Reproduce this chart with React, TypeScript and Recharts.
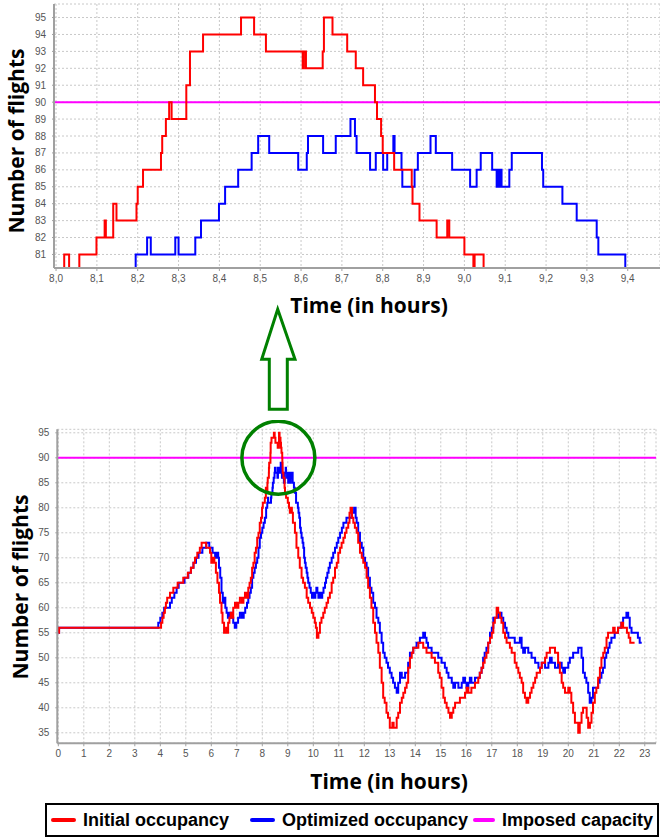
import React from "react";
import {
  CartesianGrid,
  Line,
  LineChart,
  ReferenceDot,
  ReferenceLine,
  XAxis,
  YAxis,
} from "recharts";

type Pt = [number, number];

// zoomed window 8.0 - 9.4 h
const zoomInitial: Pt[] = [
  [7.99, 80], [8.02, 81], [8.032, 80], [8.057, 81], [8.099, 82], [8.119, 83],
  [8.122, 82], [8.14, 84], [8.148, 83], [8.197, 84], [8.2, 85], [8.213, 86],
  [8.257, 87], [8.26, 88], [8.269, 89], [8.277, 90], [8.283, 89], [8.319, 91],
  [8.328, 93], [8.36, 94], [8.453, 95], [8.485, 94], [8.514, 93], [8.604, 92],
  [8.607, 93], [8.612, 92], [8.653, 93], [8.656, 95], [8.677, 94], [8.713, 93],
  [8.734, 92], [8.752, 91], [8.781, 90], [8.786, 89], [8.796, 88], [8.8, 87],
  [8.828, 86], [8.871, 85], [8.873, 84], [8.89, 83], [8.932, 82], [8.958, 83],
  [8.963, 82], [9.0, 81], [9.022, 80], [9.025, 81], [9.047, 79], [9.2, 79],
];

const zoomOptimized: Pt[] = [
  [7.99, 79], [8.195, 81], [8.223, 82], [8.232, 81], [8.292, 82], [8.3, 81],
  [8.341, 82], [8.355, 83], [8.399, 84], [8.414, 85], [8.446, 86], [8.479, 87],
  [8.495, 88], [8.522, 87], [8.593, 86], [8.614, 87], [8.617, 88], [8.654, 87],
  [8.685, 88], [8.721, 89], [8.732, 88], [8.736, 87], [8.769, 86], [8.783, 87],
  [8.801, 86], [8.811, 87], [8.826, 88], [8.829, 87], [8.846, 86], [8.848, 85],
  [8.878, 86], [8.886, 87], [8.917, 88], [8.93, 87], [8.97, 86], [9.014, 85],
  [9.03, 86], [9.04, 87], [9.068, 86], [9.079, 85], [9.082, 86], [9.085, 85],
  [9.088, 86], [9.091, 85], [9.11, 86], [9.116, 87], [9.19, 86], [9.193, 85],
  [9.24, 84], [9.275, 83], [9.324, 82], [9.328, 81], [9.394, 79], [9.5, 79],
];

// whole day 0 - 23 h
const dayInitial: Pt[] = [
  [0, 55], [0.03, 56], [4.03, 57], [4.08, 58], [4.13, 59], [4.18, 60], [4.22, 61],
  [4.27, 62], [4.38, 63], [4.51, 64], [4.68, 65], [4.9, 66], [5.08, 67], [5.2, 68],
  [5.3, 69], [5.36, 70], [5.45, 71], [5.55, 72], [5.62, 73], [5.8, 72], [5.95, 71],
  [6.0, 69], [6.05, 70], [6.12, 69], [6.18, 67], [6.24, 65], [6.3, 63], [6.34, 61],
  [6.4, 59], [6.44, 57], [6.5, 55], [6.58, 56], [6.62, 55], [6.66, 57], [6.71, 58],
  [6.76, 59], [6.82, 58], [6.86, 60], [6.93, 61], [7.0, 60], [7.06, 61], [7.12, 62],
  [7.2, 61], [7.26, 62], [7.32, 63], [7.38, 62], [7.45, 64], [7.5, 65], [7.55, 66],
  [7.6, 68], [7.65, 69], [7.7, 71], [7.75, 72], [7.8, 74], [7.85, 75], [7.9, 77],
  [7.95, 78], [7.99, 80], [8.02, 81], [8.099, 82], [8.14, 84], [8.148, 83],
  [8.2, 85], [8.213, 86], [8.257, 87], [8.26, 88], [8.269, 89], [8.319, 91],
  [8.328, 93], [8.36, 94], [8.453, 95], [8.485, 94], [8.514, 93], [8.604, 92],
  [8.653, 93], [8.656, 95], [8.677, 94], [8.713, 93], [8.734, 92], [8.752, 91],
  [8.781, 90], [8.786, 89], [8.796, 88], [8.8, 87], [8.828, 86], [8.871, 85],
  [8.873, 84], [8.89, 83], [8.932, 82], [9.0, 81], [9.047, 80], [9.08, 79],
  [9.12, 80], [9.16, 79], [9.2, 77], [9.28, 75], [9.34, 72], [9.41, 70], [9.47, 68],
  [9.54, 66], [9.6, 65], [9.67, 64], [9.74, 62], [9.8, 61], [9.87, 60], [9.94, 59],
  [10.0, 58], [10.06, 57], [10.1, 56], [10.14, 54], [10.2, 55], [10.26, 57],
  [10.32, 58], [10.39, 59], [10.45, 60], [10.52, 61], [10.58, 62], [10.65, 63],
  [10.72, 65], [10.78, 66], [10.85, 68], [10.92, 69], [10.98, 71], [11.05, 72],
  [11.11, 73], [11.18, 74], [11.24, 75], [11.3, 76], [11.37, 77], [11.42, 79],
  [11.46, 80], [11.52, 78], [11.57, 77], [11.63, 76], [11.7, 75], [11.76, 73],
  [11.83, 71], [11.9, 70], [11.96, 69], [12.03, 68], [12.09, 66], [12.15, 64],
  [12.22, 62], [12.28, 60], [12.35, 57], [12.42, 55], [12.48, 53], [12.55, 51],
  [12.61, 48], [12.68, 45], [12.74, 42], [12.8, 41], [12.87, 39], [12.93, 38],
  [13.0, 36], [13.1, 37], [13.15, 36], [13.27, 38], [13.33, 39], [13.4, 41],
  [13.47, 42], [13.53, 43], [13.6, 44], [13.66, 45], [13.72, 48], [13.79, 50],
  [13.86, 51], [13.92, 52], [14.12, 53], [14.31, 52], [14.44, 51], [14.64, 50],
  [14.77, 49], [14.9, 47], [14.96, 46], [15.03, 44], [15.1, 42], [15.16, 41],
  [15.23, 40], [15.3, 39], [15.36, 38], [15.43, 39], [15.49, 40], [15.56, 41],
  [15.75, 42], [15.95, 43], [16.01, 44], [16.08, 43], [16.2, 44], [16.34, 45],
  [16.47, 46], [16.53, 47], [16.6, 48], [16.66, 49], [16.72, 50], [16.79, 51],
  [16.86, 53], [16.93, 54], [17.0, 55], [17.06, 57], [17.12, 58], [17.19, 60],
  [17.25, 59], [17.32, 58], [17.38, 57], [17.45, 55], [17.52, 54], [17.58, 53],
  [17.71, 52], [17.78, 51], [17.9, 49], [17.97, 48], [18.04, 47], [18.1, 46],
  [18.17, 45], [18.23, 43], [18.3, 42], [18.36, 41], [18.43, 42], [18.5, 43],
  [18.56, 44], [18.63, 45], [18.7, 46], [18.76, 47], [18.89, 48], [18.96, 49],
  [19.09, 50], [19.15, 51], [19.28, 52], [19.48, 51], [19.6, 49], [19.67, 47],
  [19.74, 45], [19.8, 44], [19.87, 43], [20.0, 44], [20.06, 43], [20.12, 41],
  [20.19, 39], [20.26, 37], [20.39, 35], [20.45, 37], [20.52, 39], [20.58, 40],
  [20.72, 38], [20.78, 36], [20.85, 37], [20.91, 39], [20.97, 41], [21.04, 43],
  [21.1, 44], [21.17, 46], [21.24, 48], [21.3, 50], [21.37, 51], [21.43, 52],
  [21.5, 54], [21.56, 55], [21.76, 56], [21.82, 55], [21.95, 56], [22.08, 57],
  [22.15, 56], [22.3, 55], [22.37, 54], [22.43, 53], [22.6, 53],
];

const dayOptimized: Pt[] = [
  [0, 55], [0.03, 56], [3.92, 57], [4.0, 58], [4.08, 59], [4.15, 60], [4.38, 61],
  [4.45, 62], [4.55, 63], [4.64, 64], [4.72, 65], [4.95, 66], [5.1, 67], [5.2, 68],
  [5.3, 69], [5.4, 70], [5.5, 71], [5.65, 72], [5.8, 73], [5.92, 72], [6.05, 71],
  [6.15, 70], [6.22, 71], [6.27, 70], [6.3, 68], [6.35, 66], [6.4, 63], [6.45, 61],
  [6.5, 62], [6.55, 60], [6.6, 59], [6.65, 58], [6.72, 59], [6.8, 58], [6.86, 57],
  [6.92, 56], [6.98, 57], [7.05, 58], [7.12, 59], [7.2, 58], [7.27, 59], [7.33, 60],
  [7.4, 61], [7.45, 62], [7.5, 63], [7.55, 64], [7.6, 66], [7.65, 67], [7.7, 68],
  [7.75, 69], [7.8, 70], [7.85, 72], [7.9, 74], [7.95, 75], [8.0, 76], [8.05, 77],
  [8.1, 78], [8.15, 80], [8.195, 81], [8.223, 82], [8.232, 81], [8.341, 82],
  [8.355, 83], [8.399, 84], [8.414, 85], [8.446, 86], [8.479, 87], [8.495, 88],
  [8.522, 87], [8.593, 86], [8.614, 88], [8.654, 87], [8.685, 88], [8.721, 89],
  [8.732, 87], [8.769, 86], [8.783, 87], [8.801, 86], [8.811, 87], [8.846, 85],
  [8.878, 86], [8.886, 87], [8.917, 88], [8.93, 87], [8.97, 86], [9.014, 85],
  [9.03, 86], [9.04, 87], [9.068, 86], [9.079, 85], [9.11, 86], [9.116, 87],
  [9.19, 85], [9.24, 84], [9.275, 83], [9.324, 81], [9.394, 80], [9.42, 79],
  [9.45, 78], [9.48, 76], [9.51, 75], [9.54, 74], [9.58, 73], [9.61, 72],
  [9.64, 70], [9.67, 69], [9.7, 68], [9.74, 67], [9.77, 66], [9.8, 65], [9.85, 64],
  [9.9, 63], [9.95, 62], [10.0, 63], [10.04, 62], [10.08, 63], [10.12, 64],
  [10.16, 63], [10.2, 62], [10.25, 63], [10.3, 62], [10.35, 63], [10.4, 64],
  [10.46, 65], [10.5, 66], [10.55, 67], [10.6, 68], [10.65, 69], [10.72, 70],
  [10.78, 71], [10.85, 72], [10.92, 73], [10.98, 74], [11.05, 75], [11.12, 76],
  [11.18, 77], [11.3, 78], [11.5, 79], [11.6, 80], [11.66, 78], [11.7, 77],
  [11.76, 75], [11.83, 73], [11.9, 72], [11.96, 70], [12.03, 69], [12.09, 68],
  [12.15, 66], [12.22, 64], [12.28, 63], [12.35, 61], [12.42, 60], [12.48, 58],
  [12.55, 57], [12.61, 55], [12.68, 53], [12.74, 51], [12.8, 50], [12.87, 49],
  [12.93, 48], [13.0, 47], [13.07, 46], [13.13, 45], [13.2, 44], [13.27, 43],
  [13.33, 45], [13.4, 47], [13.47, 46], [13.6, 47], [13.72, 49], [13.79, 51],
  [13.92, 52], [14.05, 53], [14.18, 54], [14.31, 55], [14.38, 54], [14.44, 53],
  [14.5, 52], [14.64, 51], [14.9, 50], [15.03, 49], [15.16, 48], [15.23, 47],
  [15.3, 46], [15.43, 45], [15.49, 44], [15.56, 45], [15.69, 44], [15.82, 45],
  [15.88, 46], [15.95, 45], [16.01, 44], [16.08, 45], [16.14, 46], [16.2, 45],
  [16.34, 46], [16.53, 47], [16.6, 48], [16.66, 50], [16.72, 51], [16.79, 52],
  [16.86, 53], [16.93, 55], [17.0, 56], [17.06, 58], [17.25, 59], [17.38, 58],
  [17.45, 57], [17.52, 56], [17.58, 55], [17.65, 54], [17.9, 53], [18.1, 54],
  [18.17, 52], [18.23, 51], [18.3, 52], [18.43, 51], [18.56, 50], [18.7, 49],
  [18.83, 48], [18.96, 49], [19.09, 48], [19.22, 49], [19.28, 50], [19.35, 49],
  [19.48, 48], [19.6, 49], [19.74, 48], [19.8, 47], [19.87, 48], [20.0, 49],
  [20.06, 50], [20.19, 51], [20.39, 52], [20.52, 50], [20.58, 47], [20.65, 46],
  [20.71, 45], [20.78, 43], [20.84, 41], [20.91, 42], [20.97, 44], [21.17, 45],
  [21.23, 46], [21.3, 47], [21.36, 48], [21.43, 50], [21.49, 51], [21.56, 52],
  [21.62, 53], [21.69, 54], [21.82, 55], [21.95, 56], [22.08, 57], [22.15, 58],
  [22.28, 59], [22.35, 58], [22.41, 56], [22.48, 55], [22.73, 54], [22.8, 53],
  [22.88, 53],
];

const zoomHourTicks = [8.0, 8.1, 8.2, 8.3, 8.4, 8.5, 8.6, 8.7, 8.8, 8.9, 9.0, 9.1, 9.2, 9.3, 9.4];
const zoomFlightTicks = [81, 82, 83, 84, 85, 86, 87, 88, 89, 90, 91, 92, 93, 94, 95];
const dayHourTicks = [0, 1, 2, 3, 4, 5, 6, 7, 8, 9, 10, 11, 12, 13, 14, 15, 16, 17, 18, 19, 20, 21, 22, 23];
const dayFlightTicks = [35, 40, 45, 50, 55, 60, 65, 70, 75, 80, 85, 90, 95];
const imposedCapacity = 90;
const peakMarker = { t: 8.63, v: 90 };

const legendItems = [
  { label: "Initial occupancy", color: "#ff0000" },
  { label: "Optimized occupancy", color: "#0000ff" },
  { label: "Imposed capacity", color: "#ff00ff" },
];

const RED = "#ff0000";
const BLUE = "#0000ff";
const MAGENTA = "#ff00ff";
const GREEN = "#008000";
const FRAME = "#a0a0a0";
const GRID = "#c8c8c8";

const tickStyle = { fill: "#555", fontSize: 10, fontFamily: "Liberation Sans, Arial, sans-serif" };
const titleFont = "'Open Sans', 'DejaVu Sans', sans-serif";

const toRows = (pts: Pt[]) => pts.map(([t, v]) => ({ t, v }));
const commaDecimal = (v: number) => v.toFixed(1).replace(".", ",");

function AxisTitle({ text, x, y, vertical }: { text: string; x: number; y: number; vertical?: boolean }) {
  return (
    <div
      style={{
        position: "absolute",
        left: x,
        top: y,
        transform: `translate(-50%, -50%)${vertical ? " rotate(-90deg)" : ""}`,
        whiteSpace: "nowrap",
        fontFamily: titleFont,
        fontWeight: 700,
        fontSize: 21,
        color: "#000",
        lineHeight: 1,
      }}
    >
      {text}
    </div>
  );
}

function ZoomChart() {
  const domainX: [number, number] = [7.995, 9.479];
  const domainY: [number, number] = [80.2, 95.8];
  return (
    <LineChart
      width={660}
      height={320}
      margin={{ top: 4, right: 0, bottom: 0, left: 0 }}
      style={{ position: "absolute", left: 0, top: 0 }}
    >
      <CartesianGrid stroke={GRID} strokeDasharray="2 2" />
      <XAxis
        dataKey="t"
        type="number"
        domain={domainX}
        allowDataOverflow
        ticks={zoomHourTicks}
        interval={0}
        tickFormatter={commaDecimal}
        tick={tickStyle}
        tickSize={3}
        tickMargin={4}
        height={52}
        axisLine={{ stroke: FRAME, strokeWidth: 2 }}
        tickLine={{ stroke: FRAME }}
      />
      <XAxis
        xAxisId="top"
        orientation="top"
        type="number"
        domain={domainX}
        height={0}
        tick={false}
        tickLine={false}
        axisLine={{ stroke: FRAME, strokeWidth: 1.5 }}
      />
      <YAxis
        type="number"
        domain={domainY}
        allowDataOverflow
        ticks={zoomFlightTicks}
        interval={0}
        tick={tickStyle}
        tickSize={2}
        tickMargin={6}
        width={54}
        axisLine={{ stroke: FRAME, strokeWidth: 2 }}
        tickLine={{ stroke: FRAME }}
      />
      <ReferenceLine y={imposedCapacity} stroke={MAGENTA} strokeWidth={2} />
      <Line
        data={toRows(zoomOptimized)}
        dataKey="v"
        type="stepAfter"
        stroke={BLUE}
        strokeWidth={2}
        dot={false}
        isAnimationActive={false}
      />
      <Line
        data={toRows(zoomInitial)}
        dataKey="v"
        type="stepAfter"
        stroke={RED}
        strokeWidth={2}
        dot={false}
        isAnimationActive={false}
      />
    </LineChart>
  );
}

function DayChart() {
  const domainX: [number, number] = [-0.04, 23.44];
  const domainY: [number, number] = [32.9, 95.7];
  return (
    <LineChart
      width={660}
      height={360}
      margin={{ top: 9.3, right: 4, bottom: 0, left: 0 }}
      style={{ position: "absolute", left: 0, top: 420 }}
    >
      <CartesianGrid stroke={GRID} strokeDasharray="2 2" />
      <XAxis
        dataKey="t"
        type="number"
        domain={domainX}
        allowDataOverflow
        ticks={dayHourTicks}
        interval={0}
        tick={tickStyle}
        tickSize={3}
        tickMargin={4}
        height={36.7}
        axisLine={{ stroke: FRAME, strokeWidth: 2 }}
        tickLine={{ stroke: FRAME }}
      />
      <XAxis
        xAxisId="top"
        orientation="top"
        type="number"
        domain={domainX}
        height={0}
        tick={false}
        tickLine={false}
        axisLine={{ stroke: FRAME, strokeWidth: 1.5 }}
      />
      <YAxis
        type="number"
        domain={domainY}
        allowDataOverflow
        ticks={dayFlightTicks}
        interval={0}
        tick={tickStyle}
        tickSize={2}
        tickMargin={6}
        width={57.3}
        axisLine={{ stroke: FRAME, strokeWidth: 2 }}
        tickLine={{ stroke: FRAME }}
      />
      <YAxis
        yAxisId="right"
        orientation="right"
        type="number"
        domain={domainY}
        width={0}
        tick={false}
        tickLine={false}
        axisLine={{ stroke: FRAME, strokeWidth: 1.5 }}
      />
      <ReferenceLine y={imposedCapacity} stroke={MAGENTA} strokeWidth={2} />
      <Line
        data={toRows(dayOptimized)}
        dataKey="v"
        type="stepAfter"
        stroke={BLUE}
        strokeWidth={2}
        dot={false}
        isAnimationActive={false}
      />
      <Line
        data={toRows(dayInitial)}
        dataKey="v"
        type="stepAfter"
        stroke={RED}
        strokeWidth={2}
        dot={false}
        isAnimationActive={false}
      />
      <ReferenceDot
        x={peakMarker.t}
        y={peakMarker.v}
        r={36.5}
        fill="none"
        stroke={GREEN}
        strokeWidth={3.5}
        ifOverflow="visible"
      />
    </LineChart>
  );
}

function ChartLegend() {
  const slotWidths = [199, 223, 180];
  return (
    <div
      style={{
        position: "absolute",
        left: 45,
        top: 803,
        width: 614,
        height: 34,
        boxSizing: "border-box",
        border: "2px solid #000",
        display: "flex",
        alignItems: "center",
        paddingLeft: 4,
        fontFamily: "'Liberation Sans', Arial, sans-serif",
        fontWeight: 700,
        fontSize: 18,
        color: "#000",
      }}
    >
      {legendItems.map((item, i) => (
        <div key={item.label} style={{ width: slotWidths[i], display: "flex", alignItems: "center", whiteSpace: "nowrap" }}>
          <span
            style={{
              display: "inline-block",
              width: 25,
              height: 4,
              borderRadius: 2,
              background: item.color,
              marginRight: 7,
            }}
          />
          {item.label}
        </div>
      ))}
    </div>
  );
}

function UpArrow() {
  return (
    <svg
      width={660}
      height={838}
      style={{ position: "absolute", left: 0, top: 0, pointerEvents: "none" }}
    >
      <polygon
        points="277.7,309.3 295,359.3 287.3,359.3 287.3,409.3 269.3,409.3 269.3,359.3 261.7,359.3"
        fill="none"
        stroke={GREEN}
        strokeWidth={3}
        strokeLinejoin="miter"
      />
    </svg>
  );
}

export default function App() {
  return (
    <div
      style={{
        position: "absolute",
        left: 0,
        top: 0,
        width: 660,
        height: 838,
        background: "#fff",
        overflow: "hidden",
      }}
    >
      <ZoomChart />
      <DayChart />
      <AxisTitle text="Number of flights" x={16} y={141} vertical />
      <AxisTitle text="Time (in hours)" x={369} y={305} />
      <AxisTitle text="Number of flights" x={20} y={587} vertical />
      <AxisTitle text="Time (in hours)" x={389} y={781} />
      <UpArrow />
      <ChartLegend />
    </div>
  );
}
